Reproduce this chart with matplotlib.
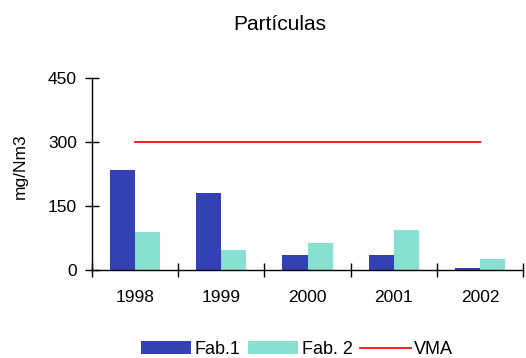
import matplotlib
matplotlib.use("Agg")
import matplotlib.pyplot as plt
import numpy as np

plt.rcParams['font.family'] = ['Liberation Sans', 'DejaVu Sans']

years = ['1998', '1999', '2000', '2001', '2002']
fab1 = [233, 179, 34, 34, 3]
fab2 = [88, 46, 62, 92, 24]
vma = [300, 300, 300, 300, 300]

c_fab1 = '#3341B5'
c_fab2 = '#88E0D3'
c_vma = '#FF1A1A'

fig = plt.figure(figsize=(5.26, 3.58), dpi=100)
ax = fig.add_axes([91.7 / 526, 88.5 / 358, 431.6 / 526, 192 / 358])

x = np.arange(len(years))
width = 0.29
b1 = ax.bar(x - width / 2, fab1, width, color=c_fab1, label='Fab.1')
b2 = ax.bar(x + width / 2, fab2, width, color=c_fab2, label='Fab. 2')
ln, = ax.plot(x, vma, color=c_vma, lw=1.4, label='VMA')

ax.set_xlim(-0.5, len(years) - 0.5)
ax.set_ylim(0, 450)
ax.set_yticks([0, 150, 300, 450])

# category boundaries get the tick marks, labels sit on the centres
ax.set_xticks(np.arange(len(years) + 1) - 0.5)
ax.set_xticklabels([])
ax.set_xticks(x, minor=True)
ax.set_xticklabels(years, minor=True)
ax.tick_params(axis='x', which='minor', length=0, pad=15, labelsize=12.5)
ax.tick_params(axis='both', which='major', direction='inout', length=10,
               width=1, labelsize=12.5)
ax.tick_params(axis='y', pad=5.5)

for s in ['top', 'right']:
    ax.spines[s].set_visible(False)
for s in ['left', 'bottom']:
    ax.spines[s].set_linewidth(1)

fig.text(20.5 / 526, 1 - 166.5 / 358, 'mg/Nm3', rotation=90,
         ha='center', va='center', fontsize=12.5)
fig.text(280 / 526, 1 - 24 / 358, 'Partículas', ha='center', va='center',
         fontsize=15)

fig.legend(handles=[b1, b2, ln], loc='center',
           bbox_to_anchor=(297 / 526, 1 - 349.5 / 358), ncol=3,
           frameon=False, fontsize=13, handlelength=2.8, handleheight=0.75,
           handletextpad=0.2, columnspacing=0.4, borderpad=0)

fig.savefig('out.png', dpi=100)
